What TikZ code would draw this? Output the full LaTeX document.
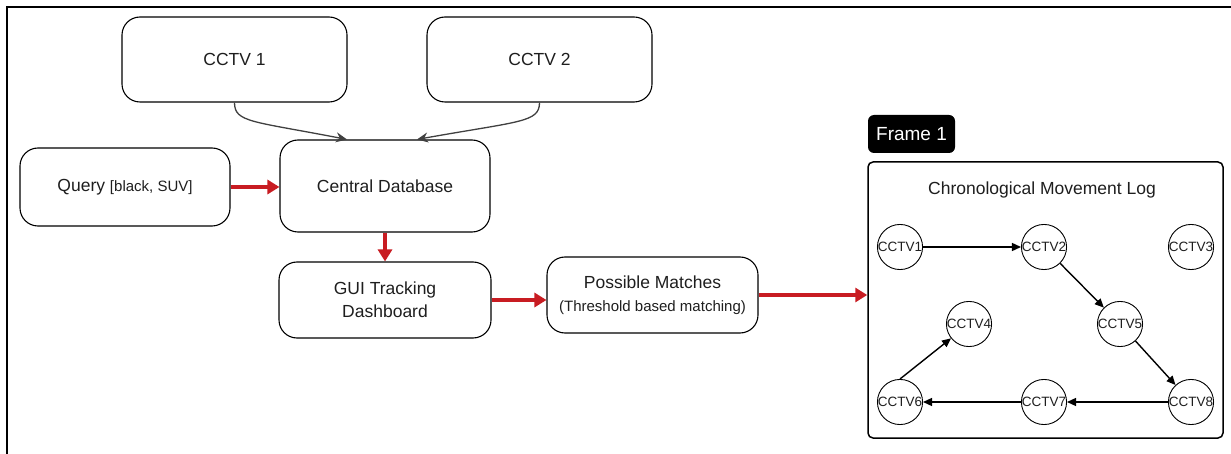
\documentclass[tikz,border=0pt]{standalone}
\usepackage{fontspec}
\setmainfont{Liberation Sans}
\usetikzlibrary{arrows.meta}
\definecolor{arrowred}{RGB}{200,28,34}
\definecolor{inkgray}{RGB}{64,64,64}
\definecolor{txt}{RGB}{30,30,30}
\begin{document}
\begin{tikzpicture}[x=1pt,y=-1pt,
  box/.style={draw, rounded corners=18pt, line width=1.1pt, align=center,
    font=\fontsize{17.5}{23}\selectfont, text=txt, inner sep=0pt},
  redarrow/.style={draw=arrowred, line width=3.2pt, -{Triangle[length=12pt,width=14pt]}},
  grayarrow/.style={draw=inkgray, line width=1.3pt, -{Stealth[length=11pt,width=10pt]}},
  cam/.style={circle, draw, minimum size=44pt, inner sep=0pt, line width=0.9pt,
    font=\fontsize{13.5}{14}\selectfont, text=txt},
  flow/.style={draw=black, line width=1.4pt, -{Triangle[length=9pt,width=8pt]}}
]
\useasboundingbox (0,0) rectangle (1231,454);
\draw[line width=2pt] (1231,7) -- (7,7) -- (7,454);

% main boxes
\node[box, minimum width=225pt, minimum height=85pt] (cctv1) at (234.5,59.5) {CCTV 1};
\node[box, minimum width=225pt, minimum height=85pt] (cctv2) at (539.5,59.5) {CCTV 2};
\node[box, minimum width=210pt, minimum height=78pt] (query) at (125,187)
  {Query {\fontsize{15}{18}\selectfont [black, SUV]}};
\node[box, minimum width=210pt, minimum height=92pt] (cdb) at (385,186) {Central Database};
\node[box, minimum width=212pt, minimum height=76pt] (gui) at (385,300) {GUI Tracking\\Dashboard};
\node[box, minimum width=211pt, minimum height=76pt] (pm) at (652.5,295)
  {Possible Matches\\{\fontsize{15}{18}\selectfont (Threshold based matching)}};

% frame
\node[fill=black, rounded corners=6pt, minimum width=87pt, minimum height=38pt, inner sep=0pt,
  text=white, font=\fontsize{19}{22}\selectfont] (flabel) at (911.5,134) {Frame 1};
\node[draw, rounded corners=5pt, line width=1.5pt, minimum width=355pt, minimum height=276pt,
  inner sep=0pt] (frame) at (1045.5,300) {};
\node[font=\fontsize{17.5}{20}\selectfont, text=txt] (title) at (1042,190) {Chronological Movement Log};

% cameras
\node[cam] (c1) at (900,247) {CCTV1};
\node[cam] (c2) at (1044,247) {CCTV2};
\node[cam] (c3) at (1191,247) {CCTV3};
\node[cam] (c4) at (969,324) {CCTV4};
\node[cam] (c5) at (1120,324) {CCTV5};
\node[cam] (c6) at (900,402) {CCTV6};
\node[cam] (c7) at (1044,402) {CCTV7};
\node[cam] (c8) at (1191,402) {CCTV8};

% connectors
\coordinate (in1) at ([xshift=-38pt]cdb.north);
\coordinate (in2) at ([xshift=32pt]cdb.north);
\draw[grayarrow] (cctv1.south) .. controls ([yshift=-20pt]cctv1.south) and (252,121) .. (in1);
\draw[grayarrow] (cctv2.south) .. controls ([yshift=-20pt]cctv2.south) and (520,121) .. (in2);
\draw[redarrow] (query.east) -- (query.east -| cdb.west);
\draw[redarrow] (cdb.south) -- (gui.north);
\draw[redarrow] (gui.east) -- (gui.east -| pm.west);
\draw[redarrow] (pm.east) -- (pm.east -| frame.west);

\draw[flow] (c1) -- (c2);
\draw[flow] (c2) -- (c5);
\draw[flow] (c5) -- (c8);
\draw[flow] (c8) -- (c7);
\draw[flow] (c7) -- (c6);
\draw[flow] (c6.north) -- (c4);
\end{tikzpicture}
\end{document}
